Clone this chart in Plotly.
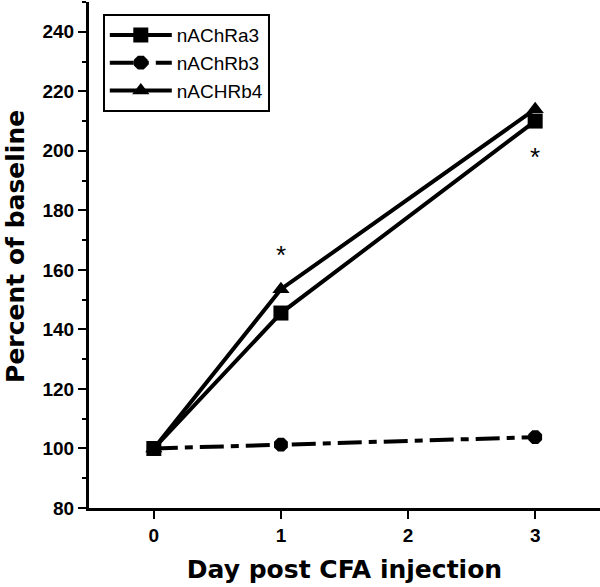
import plotly.graph_objects as go

days = [0, 1, 3]
a3 = [100, 145.5, 210]
b3 = [100, 101.3, 103.8]
b4 = [100, 153.5, 214]
star_x = [1, 3]
star_y = [165, 198]
x_ticks = [0, 1, 2, 3]
y_ticks = [80, 100, 120, 140, 160, 180, 200, 220, 240]

fig = go.Figure()
fig.add_trace(go.Scatter(x=days, y=a3, name="nAChRa3", mode="lines+markers",
                         line=dict(color="black", width=4),
                         marker=dict(symbol="square", size=15, color="black")))
fig.add_trace(go.Scatter(x=days, y=b3, name="nAChRb3", mode="lines+markers",
                         line=dict(color="black", width=4, dash="24px,7px,8px,7px"),
                         marker=dict(symbol="octagon", size=15, color="black")))
fig.add_trace(go.Scatter(x=days, y=b4, name="nACHRb4", mode="lines+markers",
                         line=dict(color="black", width=4),
                         marker=dict(symbol="triangle-up", size=15, color="black")))

for sx, sy in zip(star_x, star_y):
    fig.add_annotation(x=sx, y=sy, text="*", showarrow=False,
                       font=dict(size=26, color="black", family="Liberation Sans"))

fig.add_annotation(x=0, y=0.516, xref="paper", yref="paper", xanchor="center", yanchor="middle",
                   xshift=-73, textangle=-90, showarrow=False,
                   text="<b>Percent of baseline</b>",
                   font=dict(size=25, color="black", family="DejaVu Sans"))

fig.update_layout(
    width=600, height=587,
    margin=dict(l=89, r=0, t=2, b=79, autoexpand=False),
    plot_bgcolor="white", paper_bgcolor="white",
    font=dict(family="Liberation Sans, Arial", color="black"),
    showlegend=True,
    legend=dict(x=0.027, y=0.976, xanchor="left", yanchor="top",
                bordercolor="black", borderwidth=2, bgcolor="white",
                font=dict(size=19, color="black"), tracegroupgap=0,
                itemwidth=62),
)
fig.update_xaxes(range=[-0.51, 3.51], tickvals=x_ticks, ticktext=[f"<b>{v}</b>" for v in x_ticks],
                 automargin=False,
                 showline=True, linecolor="black", linewidth=3, showgrid=False, zeroline=False,
                 ticks="outside", ticklen=8, tickwidth=2, tickcolor="black",
                 tickfont=dict(size=19, color="black"),
                 title=dict(text="<b>Day post CFA injection</b>",
                            font=dict(size=25, color="black", family="DejaVu Sans"), standoff=16))
fig.update_yaxes(range=[80, 250], tickvals=y_ticks, ticktext=[f"<b>{v}</b>" for v in y_ticks],
                 automargin=False,
                 showline=True, linecolor="black", linewidth=3, showgrid=False, zeroline=False,
                 ticks="outside", ticklen=8, tickwidth=2, tickcolor="black",
                 tickfont=dict(size=19, color="black"),
                 minor=dict(dtick=10, tick0=90, ticks="outside", ticklen=4, tickwidth=2, tickcolor="black", showgrid=False))

fig.write_html("out.html", config={"displayModeBar": False},
               post_script="document.body.style.margin='0';")
